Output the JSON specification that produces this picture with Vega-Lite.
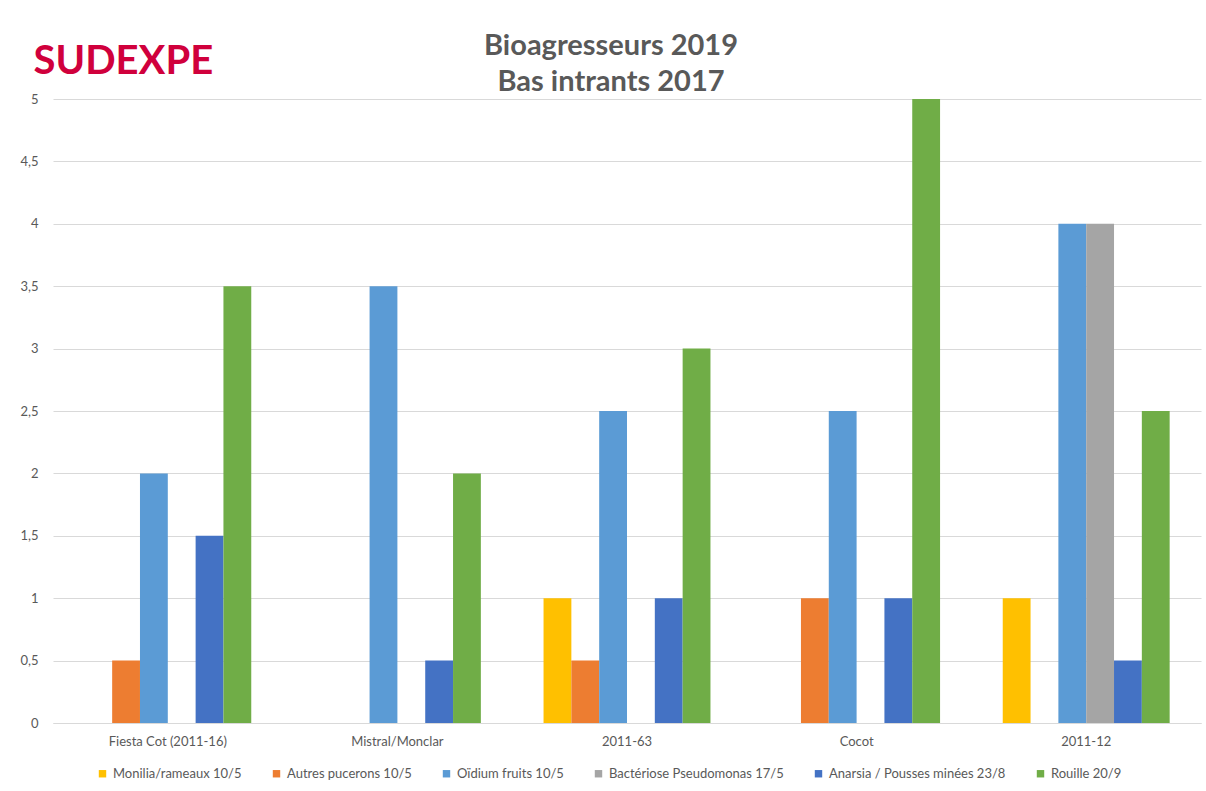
{
  "$schema": "https://vega.github.io/schema/vega-lite/v6.json",
  "width": 1148,
  "height": 624,
  "autosize": {"type": "none"},
  "padding": {"left": 53, "top": 99, "right": 5, "bottom": 68},
  "background": "white",
  "title": {
    "text": ["Bioagresseurs 2019", "Bas intrants 2017"],
    "font": "Lato",
    "fontSize": 29,
    "fontWeight": "bold",
    "color": "#595959",
    "lineHeight": 36,
    "anchor": "middle",
    "dx": -16,
    "dy": 60,
    "offset": 4
  },
  "data": {
    "values": [
      {"cat": "Fiesta Cot (2011-16)", "serie": "Monilia/rameaux 10/5", "val": 0},
      {"cat": "Fiesta Cot (2011-16)", "serie": "Autres pucerons 10/5", "val": 0.5},
      {"cat": "Fiesta Cot (2011-16)", "serie": "Oïdium fruits 10/5", "val": 2},
      {"cat": "Fiesta Cot (2011-16)", "serie": "Bactériose Pseudomonas 17/5", "val": 0},
      {"cat": "Fiesta Cot (2011-16)", "serie": "Anarsia / Pousses minées 23/8", "val": 1.5},
      {"cat": "Fiesta Cot (2011-16)", "serie": "Rouille 20/9", "val": 3.5},
      {"cat": "Mistral/Monclar", "serie": "Monilia/rameaux 10/5", "val": 0},
      {"cat": "Mistral/Monclar", "serie": "Autres pucerons 10/5", "val": 0},
      {"cat": "Mistral/Monclar", "serie": "Oïdium fruits 10/5", "val": 3.5},
      {"cat": "Mistral/Monclar", "serie": "Bactériose Pseudomonas 17/5", "val": 0},
      {"cat": "Mistral/Monclar", "serie": "Anarsia / Pousses minées 23/8", "val": 0.5},
      {"cat": "Mistral/Monclar", "serie": "Rouille 20/9", "val": 2},
      {"cat": "2011-63", "serie": "Monilia/rameaux 10/5", "val": 1},
      {"cat": "2011-63", "serie": "Autres pucerons 10/5", "val": 0.5},
      {"cat": "2011-63", "serie": "Oïdium fruits 10/5", "val": 2.5},
      {"cat": "2011-63", "serie": "Bactériose Pseudomonas 17/5", "val": 0},
      {"cat": "2011-63", "serie": "Anarsia / Pousses minées 23/8", "val": 1},
      {"cat": "2011-63", "serie": "Rouille 20/9", "val": 3},
      {"cat": "Cocot", "serie": "Monilia/rameaux 10/5", "val": 0},
      {"cat": "Cocot", "serie": "Autres pucerons 10/5", "val": 1},
      {"cat": "Cocot", "serie": "Oïdium fruits 10/5", "val": 2.5},
      {"cat": "Cocot", "serie": "Bactériose Pseudomonas 17/5", "val": 0},
      {"cat": "Cocot", "serie": "Anarsia / Pousses minées 23/8", "val": 1},
      {"cat": "Cocot", "serie": "Rouille 20/9", "val": 5},
      {"cat": "2011-12", "serie": "Monilia/rameaux 10/5", "val": 1},
      {"cat": "2011-12", "serie": "Autres pucerons 10/5", "val": 0},
      {"cat": "2011-12", "serie": "Oïdium fruits 10/5", "val": 4},
      {"cat": "2011-12", "serie": "Bactériose Pseudomonas 17/5", "val": 4},
      {"cat": "2011-12", "serie": "Anarsia / Pousses minées 23/8", "val": 0.5},
      {"cat": "2011-12", "serie": "Rouille 20/9", "val": 2.5}
    ]
  },
  "mark": {"type": "bar"},
  "encoding": {
    "x": {
      "field": "cat",
      "type": "nominal",
      "sort": ["Fiesta Cot (2011-16)", "Mistral/Monclar", "2011-63", "Cocot", "2011-12"],
      "scale": {"paddingInner": 0.273, "paddingOuter": 0.1365},
      "axis": {
        "title": null,
        "labelAngle": 0,
        "labelFont": "Lato",
        "labelFontSize": 13,
        "labelColor": "#595959",
        "labelPadding": 12,
        "ticks": false,
        "domainColor": "#D9D9D9",
        "domainWidth": 1
      }
    },
    "xOffset": {
      "field": "serie",
      "type": "nominal",
      "sort": ["Monilia/rameaux 10/5", "Autres pucerons 10/5", "Oïdium fruits 10/5", "Bactériose Pseudomonas 17/5", "Anarsia / Pousses minées 23/8", "Rouille 20/9"],
      "scale": {"paddingInner": 0, "paddingOuter": 0}
    },
    "y": {
      "field": "val",
      "type": "quantitative",
      "scale": {"domain": [0, 5], "nice": false},
      "axis": {
        "title": "SUDEXPE",
        "titleFont": "Lato",
        "titleFontSize": 40,
        "titleFontWeight": "bold",
        "titleColor": "#D0003C",
        "titleAngle": 0,
        "titleAlign": "left",
        "titleBaseline": "alphabetic",
        "titleX": -20,
        "titleY": -26,
        "values": [0, 0.5, 1, 1.5, 2, 2.5, 3, 3.5, 4, 4.5, 5],
        "labelExpr": "replace(format(datum.value, '.1~f'), '.', ',')",
        "labelFont": "Lato",
        "labelFontSize": 13,
        "labelColor": "#595959",
        "labelPadding": 15,
        "ticks": false,
        "domain": false,
        "gridColor": "#D9D9D9",
        "gridWidth": 1
      }
    },
    "color": {
      "field": "serie",
      "type": "nominal",
      "sort": ["Monilia/rameaux 10/5", "Autres pucerons 10/5", "Oïdium fruits 10/5", "Bactériose Pseudomonas 17/5", "Anarsia / Pousses minées 23/8", "Rouille 20/9"],
      "scale": {
        "domain": ["Monilia/rameaux 10/5", "Autres pucerons 10/5", "Oïdium fruits 10/5", "Bactériose Pseudomonas 17/5", "Anarsia / Pousses minées 23/8", "Rouille 20/9"],
        "range": ["#FFC000", "#ED7D31", "#5B9BD5", "#A5A5A5", "#4472C4", "#70AD47"]
      },
      "legend": {
        "title": null,
        "orient": "none",
        "legendX": 43,
        "legendY": 668,
        "direction": "horizontal",
        "symbolType": "square",
        "symbolSize": 55,
        "symbolStrokeWidth": 0,
        "labelFont": "Lato",
        "labelFontSize": 13,
        "labelColor": "#595959",
        "labelLimit": 300,
        "columnPadding": 28
      }
    }
  },
  "config": {
    "view": {"stroke": null}
  }
}
